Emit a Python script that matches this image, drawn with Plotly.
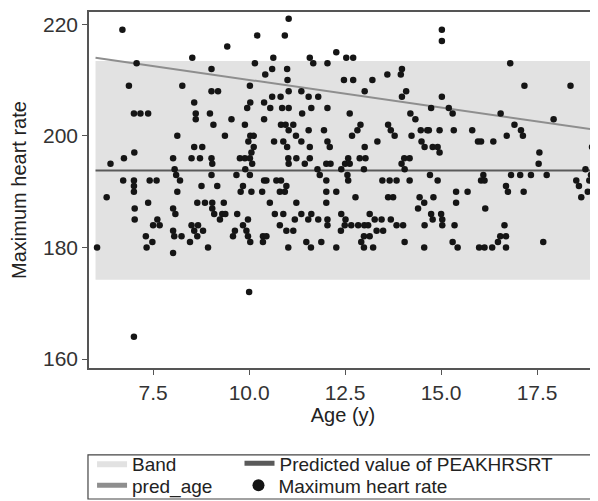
import plotly.graph_objects as go

# ---------------- data ----------------
age = [6.70,10.21,9.43,8.52,7.07,9.02,10.15,6.87,8.26,9.02,9.19,10.02,8.57,10.03,9.95,7.00,7.17,7.37,8.61,8.61,8.98,9.54,9.07,9.89,8.13,9.37,10.03,10.12,7.01,8.57,8.78,10.12,10.06,9.98,
       11.03,10.93,12.27,10.63,11.58,11.67,12.04,12.53,12.71,10.60,10.42,10.99,11.00,12.47,12.71,13.21,13.60,13.98,13.95,11.03,11.36,13.01,14.09,13.98,10.60,10.82,11.55,11.80,10.39,11.62,10.86,11.03,10.55,12.04,11.38,12.62,14.20,14.33,10.39,10.83,10.95,11.15,11.03,11.55,11.95,12.90,12.82,13.62,13.69,14.47,14.64,11.22,11.36,10.65,10.89,12.04,12.68,13.34,13.79,14.23,14.49,10.99,11.58,12.10,13.01,14.57,
       15.02,15.02,16.80,17.17,18.37,15.02,14.74,15.20,15.30,16.55,16.91,17.08,17.13,17.93,14.68,14.96,15.33,15.81,15.96,16.04,16.36,16.71,17.56,18.93,14.78,14.91,14.96,
       6.74,6.39,8.02,8.50,8.72,9.02,9.04,9.76,9.89,10.02,10.08,8.06,8.10,8.20,9.02,9.67,9.90,10.02,6.72,7.00,7.00,7.00,7.41,7.59,8.13,8.76,9.17,9.84,9.78,10.06,6.29,7.37,8.65,8.85,9.04,9.04,9.09,9.34,7.02,7.02,8.02,8.08,9.30,9.24,9.38,9.69,9.97,7.61,7.50,7.67,8.50,8.57,8.67,8.80,8.65,8.02,8.05,8.24,8.46,9.63,9.58,9.84,9.93,9.97,10.03,7.31,7.48,7.33,8.93,8.02,6.04,10.00,7.00,
       11.02,11.03,11.23,11.45,11.58,11.78,11.84,12.01,12.12,12.01,12.50,12.58,12.62,12.56,12.58,12.88,13.03,12.99,13.97,14.04,14.18,14.05,12.40,10.39,10.45,10.71,10.83,10.97,10.80,10.93,10.34,12.01,12.27,13.47,13.66,13.84,14.18,10.54,11.23,12.01,12.77,13.62,13.75,14.44,14.56,14.40,10.67,10.89,11.36,11.62,11.19,11.54,11.80,12.04,12.04,12.40,12.51,12.49,12.39,12.66,12.84,13.00,13.14,13.10,13.27,13.32,13.49,13.45,13.69,13.84,14.01,14.57,10.80,10.97,11.15,10.36,10.45,10.36,11.02,11.49,11.61,11.88,12.27,12.92,12.99,13.14,12.99,13.23,14.05,14.56,
       17.54,14.71,14.91,16.04,16.10,16.13,16.82,17.06,17.34,17.75,16.69,16.74,17.15,15.39,15.69,15.39,14.80,16.15,14.74,14.78,15.00,15.03,15.03,15.35,16.65,16.54,16.69,16.48,16.69,15.30,15.43,15.99,16.13,16.33,17.66,19.00,18.52,18.59,18.86,18.90,18.82,18.65,18.76]

max_hr = [219,218,216,214,213,212,213,209,209,208,208,209,206,206,205,204,204,204,204,203,204,203,202,202,200,200,200,200,197,198,198,198,197,199,
          221,218,215,214,214,213,213,214,214,212,211,212,210,210,210,210,211,212,211,208,208,208,208,207,207,207,207,207,206,205,205,205,205,205,204,204,204,203,203,202,202,202,201,201,201,202,201,202,201,201,201,200,199,199,199,199,200,199,200,200,199,198,198,198,198,198,
          219,217,213,209,209,207,205,205,204,204,202,201,200,203,201,201,201,201,199,199,199,200,197,198,198,198,197,
          196,195,196,196,196,196,195,196,196,196,195,194,193,192,193,193,194,193,192,191,190,192,192,192,190,191,191,191,190,190,189,188,188,188,188,187,186,188,187,185,187,186,186,185,186,186,185,185,184,184,184,183,184,183,182,183,182,182,181,183,182,184,183,182,181,182,181,180,180,179,180,172,164,
          196,195,196,195,196,194,193,195,195,192,195,196,195,193,192,196,196,194,195,196,196,194,194,192,192,192,192,191,190,190,190,190,190,192,192,192,192,188,188,188,189,189,189,189,188,187,186,186,186,186,185,185,185,185,184,186,185,184,183,184,184,184,186,184,185,183,183,185,185,184,184,184,184,183,183,182,182,181,180,181,180,181,180,181,182,182,180,180,181,180,
          195,193,192,192,193,192,193,193,193,193,191,190,190,190,190,188,189,187,186,185,186,185,184,184,184,182,182,181,180,181,180,180,180,180,181,181,192,191,192,193,190,189,194]

line_age = [6.0, 19.0]
pred_age = [214.0, 201.1]
pred_value = [193.8, 193.8]
band_lower = [174.2, 174.2]
band_upper = [213.4, 213.4]

x_ticks = [7.5, 10.0, 12.5, 15.0, 17.5]
x_tick_labels = ["7.5", "10.0", "12.5", "15.0", "17.5"]
y_ticks = [160, 180, 200, 220]

NB = "\u00a0"

# ---------------- figure ----------------
FONT = "Liberation Sans, Arial, sans-serif"
fig = go.Figure()

fig.add_trace(go.Scatter(
    x=line_age + line_age[::-1], y=band_lower + band_upper[::-1],
    fill="toself", fillcolor="#e2e2e2", line=dict(width=0, color="#e2e2e2"),
    mode="lines", name="Band" + NB * 11, legend="legend", hoverinfo="skip"))
fig.add_trace(go.Scatter(
    x=line_age, y=pred_value, mode="lines", name="Predicted value of PEAKHRSRT",
    line=dict(color="#5a5a5a", width=2), legend="legend"))
fig.add_trace(go.Scatter(
    x=line_age, y=pred_age, mode="lines", name="pred_age" + NB * 4,
    line=dict(color="#8e8e8e", width=2), legend="legend2"))
fig.add_trace(go.Scatter(
    x=age, y=max_hr, mode="markers", name="Maximum heart rate",
    marker=dict(color="#151515", size=6.5), legend="legend2"))

common_legend = dict(orientation="h", xanchor="left", yanchor="middle",
                     x=0.006, bgcolor="rgba(0,0,0,0)", borderwidth=0,
                     font=dict(family=FONT, size=19, color="#222"),
                     itemsizing="constant")

# page has an 8px body margin, so the figure is 8px smaller and shifted
fig.update_layout(
    width=590, height=493,
    margin=dict(l=81, r=1, t=4, b=133, autoexpand=False),
    paper_bgcolor="white", plot_bgcolor="white",
    font=dict(family=FONT, size=21, color="#333"),
    showlegend=True,
    legend=dict(common_legend, y=-0.268),
    legend2=dict(common_legend, y=-0.330),
    xaxis=dict(range=[5.83, 19.06], tickvals=x_ticks, ticktext=x_tick_labels,
               showgrid=False, zeroline=False, showline=True, mirror=True,
               linecolor="#555", linewidth=1.5, ticks="outside", ticklen=5,
               tickcolor="#555", tickfont=dict(size=21, color="#333"), automargin=False,
               title=dict(text="Age (y)", font=dict(size=20, color="#222"), standoff=4)),
    yaxis=dict(range=[158.4, 222.2], tickvals=y_ticks,
               showgrid=False, zeroline=False, showline=True, mirror=True,
               linecolor="#555", linewidth=1.5, ticks="outside", ticklen=5,
               tickcolor="#555", tickfont=dict(size=21, color="#333"), automargin=False,
               title=dict(text="Maximum heart rate", font=dict(size=20, color="#222"), standoff=12)),
    shapes=[dict(type="rect", xref="paper", yref="paper",
                 x0=-0.002, x1=0.998, y0=-0.368, y1=-0.244,
                 line=dict(color="#444", width=1.2), fillcolor="rgba(0,0,0,0)")],
)

fig.write_html("out.html")
